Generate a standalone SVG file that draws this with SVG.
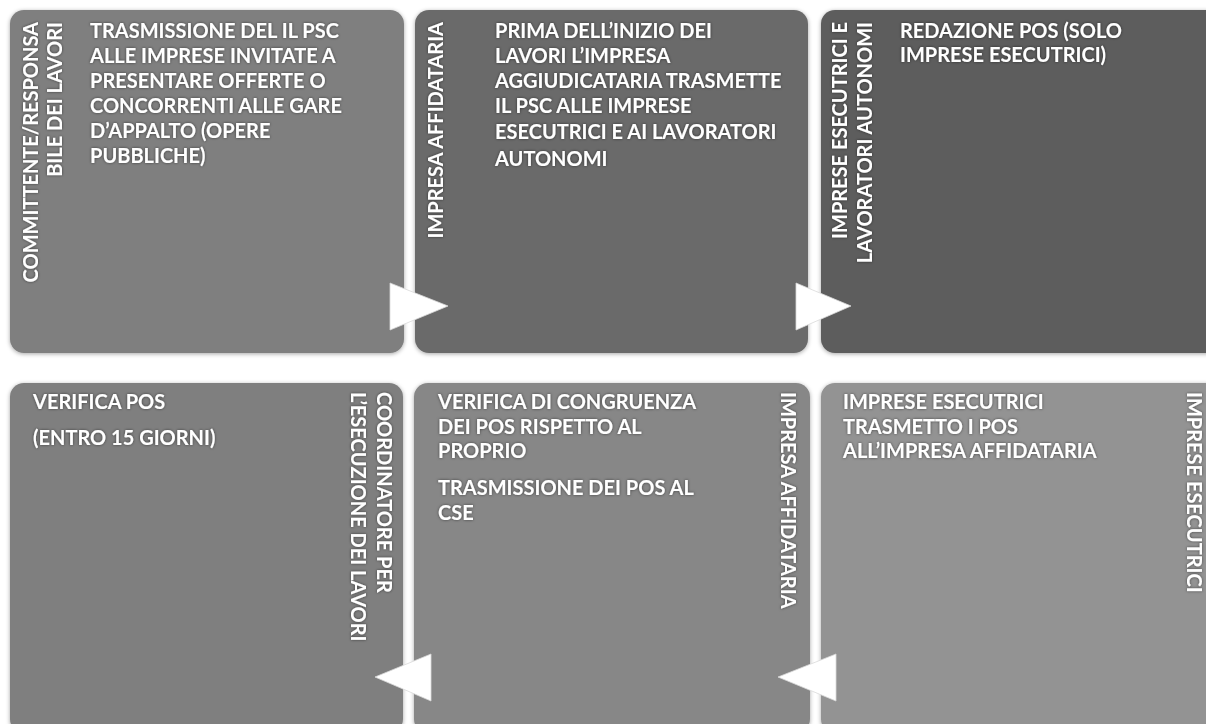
<svg xmlns="http://www.w3.org/2000/svg" width="1206" height="724" viewBox="0 0 1206 724">
<defs>
<filter id="boxsh" x="-5%" y="-5%" width="110%" height="110%">
<feDropShadow dx="0" dy="1" stdDeviation="2" flood-color="#000" flood-opacity="0.35"/>
</filter>
<filter id="txtsh" x="-5%" y="-20%" width="110%" height="140%">
<feDropShadow dx="0" dy="0" stdDeviation="1.6" flood-color="#000" flood-opacity="0.55"/>
</filter>
</defs>
<style>
.box{stroke:none;filter:url(#boxsh);}
.t{font-family:Lato,"Open Sans","Liberation Sans",sans-serif;font-weight:bold;font-size:20px;fill:#fff;filter:url(#txtsh);}
.arr{fill:#fff;stroke:#d9d9d9;stroke-width:0.8;}
</style>
<rect width="1206" height="724" fill="#fff"/>

<g id="node1">
<rect class="box" x="10" y="10" width="394" height="343" rx="14" fill="#7f7f7f"/>
<text class="t" transform="translate(38,22) rotate(-90)" text-anchor="end"><tspan x="0" y="0">COMMITTENTE/RESPONSA</tspan><tspan x="0" y="24">BILE DEI LAVORI</tspan></text>
<text class="t"><tspan x="90" y="38">TRASMISSIONE DEL IL PSC</tspan><tspan x="90" y="63">ALLE IMPRESE INVITATE A</tspan><tspan x="90" y="88">PRESENTARE OFFERTE O</tspan><tspan x="90" y="113">CONCORRENTI ALLE GARE</tspan><tspan x="90" y="138">D’APPALTO (OPERE</tspan><tspan x="90" y="163">PUBBLICHE)</tspan></text>
</g>

<g id="node2">
<rect class="box" x="415" y="10" width="393" height="343" rx="14" fill="#6b6b6b"/>
<text class="t" transform="translate(443,22) rotate(-90)" text-anchor="end">IMPRESA AFFIDATARIA</text>
<text class="t"><tspan x="495" y="38">PRIMA DELL’INIZIO DEI</tspan><tspan x="495" y="63">LAVORI L’IMPRESA</tspan><tspan x="495" y="88">AGGIUDICATARIA TRASMETTE</tspan><tspan x="495" y="113">IL PSC ALLE IMPRESE</tspan><tspan x="495" y="139">ESECUTRICI E AI LAVORATORI</tspan><tspan x="495" y="166">AUTONOMI</tspan></text>
</g>

<g id="node3">
<rect class="box" x="821" y="10" width="400" height="343" rx="14" fill="#5d5d5d"/>
<text class="t" transform="translate(847,22) rotate(-90)" text-anchor="end"><tspan x="0" y="0">IMPRESE ESECUTRICI E</tspan><tspan x="0" y="25">LAVORATORI AUTONOMI</tspan></text>
<text class="t"><tspan x="900" y="38">REDAZIONE POS (SOLO</tspan><tspan x="900" y="62">IMPRESE ESECUTRICI)</tspan></text>
</g>

<g id="node4">
<rect class="box" x="10" y="383" width="393" height="350" rx="14" fill="#7f7f7f"/>
<text class="t"><tspan x="33" y="409">VERIFICA POS</tspan><tspan x="33" y="445">(ENTRO 15 GIORNI)</tspan></text>
<text class="t" transform="translate(377,392) rotate(90)"><tspan x="0" y="0">COORDINATORE PER</tspan><tspan x="0" y="26">L’ESECUZIONE DEI LAVORI</tspan></text>
</g>

<g id="node5">
<rect class="box" x="414" y="383" width="396" height="350" rx="14" fill="#878787"/>
<text class="t"><tspan x="438" y="409">VERIFICA DI CONGRUENZA</tspan><tspan x="438" y="434">DEI POS RISPETTO AL</tspan><tspan x="438" y="458">PROPRIO</tspan><tspan x="438" y="495">TRASMISSIONE DEI POS AL</tspan><tspan x="438" y="520">CSE</tspan></text>
<text class="t" transform="translate(781,392) rotate(90)">IMPRESA AFFIDATARIA</text>
</g>

<g id="node6">
<rect class="box" x="821" y="383" width="400" height="350" rx="14" fill="#939393"/>
<text class="t"><tspan x="843" y="409">IMPRESE ESECUTRICI</tspan><tspan x="843" y="434">TRASMETTO I POS</tspan><tspan x="843" y="458">ALL’IMPRESA AFFIDATARIA</tspan></text>
<text class="t" transform="translate(1187,392) rotate(90)">IMPRESE ESECUTRICI</text>
</g>

<g id="connectors">
<polygon class="arr" points="390,283 448,306 390,330"/>
<polygon class="arr" points="796,283 851,306 796,330"/>
<polygon class="arr" points="431,654 375,677 431,701"/>
<polygon class="arr" points="836,654 778,677 836,701"/>
</g>
</svg>
